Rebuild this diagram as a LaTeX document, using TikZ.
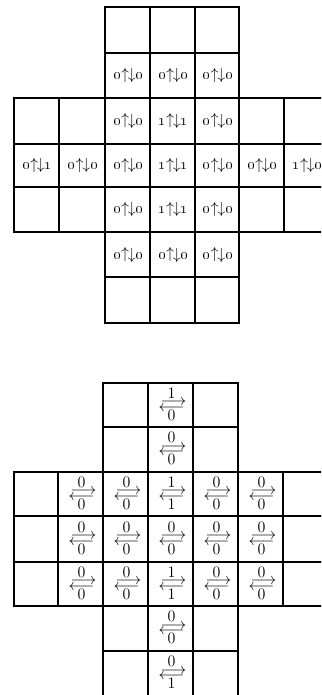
\documentclass[tikz,border=0pt]{standalone}
\newcommand\spin[2]{\oldstylenums{#1}\raisebox{0.6pt}{$\uparrow$}\kern-1pt$\downarrow$\oldstylenums{#2}}
\newcommand\flow[2]{%
  \makebox[0pt]{\raisebox{4.9pt}{#1}}%
  \makebox[0pt]{\hspace{3pt}\raisebox{-0.45pt}{$\longrightarrow$}}%
  \makebox[0pt]{\raisebox{-4.5pt}{$\longleftarrow$}}%
  \makebox[0pt]{\raisebox{-11.25pt}{#2}}}
\begin{document}
\begin{tikzpicture}[x=0.75pt,y=-0.75pt,
  cellline/.style={line width=1.4pt, line join=miter},
  lbl/.style={inner sep=0pt, anchor=base, font=\fontsize{12}{14}\selectfont}]
\useasboundingbox (0,0) rectangle (321,695);
\clip (0,0) rectangle (321,695);
% ---------- top grid ----------
\foreach \x/\xx in {105/150,150/195,195/239}
  \foreach \y/\yy in {7/53,53/98,98/144,144/187,187/232,232/277,277/323}
    \draw[cellline] (\x,\y) rectangle (\xx,\yy);
\foreach \x/\xx in {14/59,59/105,239/284,284/329}
  \foreach \y/\yy in {98/144,144/187,187/232}
    \draw[cellline] (\x,\y) rectangle (\xx,\yy);
\foreach \n/\cx/\cy/\a/\b in {
  t12/127.5/75.5/0/0, t13/172.5/75.5/0/0, t14/217/75.5/0/0,
  t22/127.5/121/0/0, t23/172.5/121/1/1, t24/217/121/0/0,
  t30/36.5/165.5/0/1, t31/82/165.5/0/0, t32/127.5/165.5/0/0, t33/172.5/165.5/1/1,
  t34/217/165.5/0/0, t35/261.5/165.5/0/0, t36/306.5/165.5/1/0,
  t42/127.5/209.5/0/0, t43/172.5/209.5/1/1, t44/217/209.5/0/0,
  t52/127.5/254.5/0/0, t53/172.5/254.5/0/0, t54/217/254.5/0/0}
  \node[lbl] (\n) at (\cx+1,\cy+4.5) {\spin{\a}{\b}};
% ---------- bottom grid ----------
\foreach \x/\xx in {103/148,148/193,193/238}
  \foreach \y/\yy in {383/427,427/472,472/516,516/562,562/606,606/651,651/698}
    \draw[cellline] (\x,\y) rectangle (\xx,\yy);
\foreach \x/\xx in {14/58,58/103,238/283,283/328}
  \foreach \y/\yy in {472/516,516/562,562/606}
    \draw[cellline] (\x,\y) rectangle (\xx,\yy);
\foreach \n/\cx/\cy/\a/\b in {
  b03/170.5/405/1/0,
  b13/170.5/449.5/0/0,
  b21/80.5/494/0/0, b22/125.5/494/0/0, b23/170.5/494/1/1, b24/215.5/494/0/0, b25/260.5/494/0/0,
  b31/80.5/539/0/0, b32/125.5/539/0/0, b33/170.5/539/0/0, b34/215.5/539/0/0, b35/260.5/539/0/0,
  b41/80.5/584/0/0, b42/125.5/584/0/0, b43/170.5/584/1/1, b44/215.5/584/0/0, b45/260.5/584/0/0,
  b53/170.5/628.5/0/0,
  b63/170.5/673.5/0/1}
  \node[lbl] (\n) at (\cx+1,\cy) {\flow{\a}{\b}};
\end{tikzpicture}
\end{document}
